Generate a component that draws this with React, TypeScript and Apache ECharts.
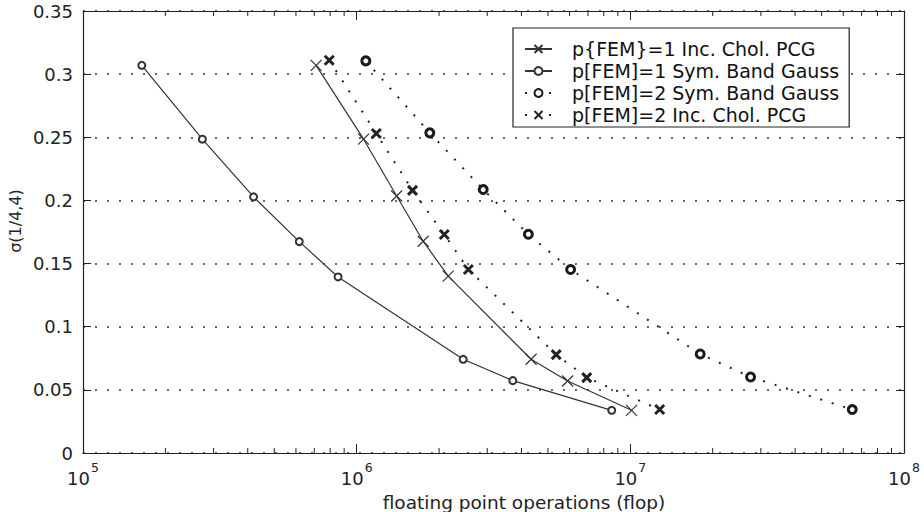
import React, { useEffect, useRef } from "react";
import * as echarts from "echarts";

// p[FEM]=1 Sym. Band Gauss
const xA = [1.64e5, 2.73e5, 4.2e5, 6.17e5, 8.55e5, 2.45e6, 3.72e6, 8.55e6];
const yA = [0.307, 0.2485, 0.2028, 0.1674, 0.1394, 0.0742, 0.0573, 0.0338];
// p{FEM}=1 Inc. Chol. PCG
const xB = [7.11e5, 1.06e6, 1.4e6, 1.75e6, 2.16e6, 4.34e6, 5.9e6, 1.01e7];
const yB = [0.307, 0.2485, 0.2035, 0.1677, 0.14, 0.0742, 0.057, 0.0338];
// p[FEM]=2 Sym. Band Gauss
const xC = [1.08e6, 1.85e6, 2.9e6, 4.24e6, 6.05e6, 1.8e7, 2.75e7, 6.47e7];
const yC = [0.3105, 0.2535, 0.2086, 0.1732, 0.1453, 0.0784, 0.0602, 0.0344];
// p[FEM]=2 Inc. Chol. PCG
const xD = [7.94e5, 1.18e6, 1.6e6, 2.09e6, 2.56e6, 5.36e6, 6.93e6, 1.28e7];
const yD = [0.311, 0.253, 0.208, 0.173, 0.1453, 0.0779, 0.0597, 0.0344];

const names = [
  "p{FEM}=1 Inc. Chol. PCG",
  "p[FEM]=1 Sym. Band Gauss",
  "p[FEM]=2 Sym. Band Gauss",
  "p[FEM]=2 Inc. Chol. PCG",
];

const minorMultipliers = [2, 3, 4, 5, 6, 7, 8, 9];
const decades = [1e5, 1e6, 1e7];

const xTitle = "floating point operations (flop)";
const yTitle = "σ(1/4,4)";

const FONT = "DejaVu Sans";
const INK = "#222";
const CROSS = "path://M0 0L10 10M10 0L0 10";

const pairs = (xs: number[], ys: number[]) => xs.map((x, i) => [x, ys[i]]);

export default function App() {
  const ref = useRef<HTMLDivElement>(null);
  useEffect(() => {
    if (!ref.current) return;
    const chart = echarts.init(ref.current, undefined, { renderer: "svg" });
    const minorTicks: number[][] = [];
    decades.forEach((d) => minorMultipliers.forEach((m) => minorTicks.push([m * d, 0])));

    const logAxisBase = {
      type: "log",
      logBase: 10,
      min: 1e5,
      max: 1e8,
      gridIndex: 0,
      axisLine: { show: true, onZero: false, lineStyle: { color: INK, width: 1.2 } },
      axisTick: { show: true, inside: true, length: 9, lineStyle: { color: INK } },
      splitLine: { show: false },
      minorTick: { show: false },
    };
    const valAxisBase = {
      type: "value",
      min: 0,
      max: 0.35,
      interval: 0.05,
      gridIndex: 0,
      axisLine: { show: true, onZero: false, lineStyle: { color: INK, width: 1.2 } },
      axisTick: { show: true, inside: true, length: 8, lineStyle: { color: INK } },
    };

    const option: any = {
      animation: false,
      backgroundColor: "#fff",
      textStyle: { fontFamily: FONT, color: INK },
      grid: { left: 83, right: 20, top: 11, bottom: 59, containLabel: false },
      xAxis: [
        {
          ...logAxisBase,
          position: "bottom",
          axisLabel: {
            show: true,
            showMinLabel: true,
            showMaxLabel: true,
            margin: 8,
            formatter: (v: number) => `{b|10}{s|${Math.round(Math.log10(v))}}`,
            rich: {
              b: { fontFamily: FONT, fontSize: 18, lineHeight: 34, color: INK, verticalAlign: "middle" },
              s: { fontFamily: FONT, fontSize: 12.5, lineHeight: 14, color: INK, verticalAlign: "top", padding: [0, 0, 0, 1] },
            },
          },
        },
        { ...logAxisBase, position: "top", axisLabel: { show: false } },
      ],
      yAxis: [
        {
          ...valAxisBase,
          position: "left",
          axisLabel: { show: true, margin: 10, fontFamily: FONT, fontSize: 18, color: INK },
          splitLine: { show: true, lineStyle: { color: "#333", width: 1.5, type: [2, 10] } },
        },
        { ...valAxisBase, position: "right", axisLabel: { show: false }, splitLine: { show: false } },
      ],
      legend: {
        data: names,
        orient: "vertical",
        left: 513,
        top: 28,
        itemWidth: 27,
        itemHeight: 10,
        itemGap: 0,
        padding: [10, 10, 1, 11],
        borderColor: INK,
        borderWidth: 1.2,
        borderRadius: 0,
        backgroundColor: "#fff",
        textStyle: { fontFamily: FONT, fontSize: 19, lineHeight: 22, color: "#111", padding: [0, 0, 0, 15] },
      },
      graphic: [
        {
          type: "text",
          x: 15,
          y: 221,
          rotation: Math.PI / 2,
          style: { text: yTitle, fontFamily: FONT, fontSize: 16, fill: INK, textAlign: "center", textVerticalAlign: "middle" },
        },
        {
          type: "text",
          x: 524,
          y: 502,
          style: { text: xTitle, fontFamily: FONT, fontSize: 18.5, fill: INK, textAlign: "center", textVerticalAlign: "middle" },
        },
      ],
      series: [
        {
          name: names[0],
          type: "line",
          data: pairs(xB, yB),
          symbol: CROSS,
          symbolSize: 11,
          lineStyle: { color: "#333", width: 1.2 },
          itemStyle: { color: "#333", borderColor: "#333", borderWidth: 1.2 },
          z: 3,
        },
        {
          name: names[1],
          type: "line",
          data: pairs(xA, yA),
          symbol: "emptyCircle",
          symbolSize: 7,
          lineStyle: { color: "#333", width: 1.2 },
          itemStyle: { color: "#333", borderColor: "#333", borderWidth: 1.1 },
          z: 3,
        },
        {
          name: names[2],
          type: "line",
          data: pairs(xC, yC),
          symbol: "circle",
          symbolSize: 8,
          lineStyle: { color: "#222", width: 2, type: [2, 10] },
          itemStyle: { color: "#fff", borderColor: "#1a1a1a", borderWidth: 3 },
          z: 3,
        },
        {
          name: names[3],
          type: "line",
          data: pairs(xD, yD),
          symbol: CROSS,
          symbolSize: 9,
          lineStyle: { color: "#222", width: 2, type: [2, 10] },
          itemStyle: { color: "#222", borderColor: "#222", borderWidth: 3 },
          z: 3,
        },
        {
          type: "custom",
          name: "minorTicks",
          xAxisIndex: 0,
          yAxisIndex: 0,
          silent: true,
          clip: false,
          z: 4,
          data: minorTicks,
          encode: { x: 0, y: 1 },
          renderItem: (params: any, api: any) => {
            const v = api.value(0);
            const b = api.coord([v, 0]);
            const t = api.coord([v, 0.35]);
            return {
              type: "group",
              children: [
                { type: "line", shape: { x1: b[0], y1: b[1], x2: b[0], y2: b[1] - 5 }, style: { stroke: INK, lineWidth: 1 } },
                { type: "line", shape: { x1: t[0], y1: t[1], x2: t[0], y2: t[1] + 5 }, style: { stroke: INK, lineWidth: 1 } },
              ],
            };
          },
        },
      ],
    };
    chart.setOption(option);
    return () => chart.dispose();
  }, []);
  return (
    <div
      ref={ref}
      style={{ position: "fixed", left: 0, top: 0, width: 924, height: 512, background: "#fff" }}
    />
  );
}
